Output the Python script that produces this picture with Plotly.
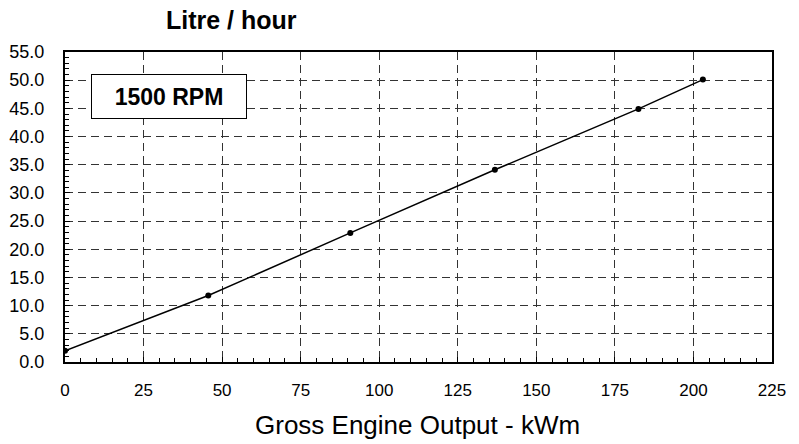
import plotly.graph_objects as go

output_kwm = [0, 45.6, 90.8, 136.8, 182.5, 203]
litre_per_hour = [2.0, 11.8, 22.9, 34.1, 44.9, 50.1]

x_ticks = [0, 25, 50, 75, 100, 125, 150, 175, 200, 225]
y_ticks = [0, 5, 10, 15, 20, 25, 30, 35, 40, 45, 50, 55]

FONT = "Liberation Sans, Arial, sans-serif"

fig = go.Figure()
fig.add_trace(go.Scatter(
    x=output_kwm, y=litre_per_hour, mode="lines+markers",
    line=dict(color="black", width=1.5),
    marker=dict(color="black", size=6),
    showlegend=False,
))

grid = dict(showgrid=True, gridcolor="#333333", griddash="8px,5px", gridwidth=1)

fig.update_xaxes(
    range=[0, 225], tickvals=x_ticks, ticktext=[str(v) for v in x_ticks],
    showline=True, linecolor="black", linewidth=2, mirror=True,
    ticks="inside", ticklen=5, tickcolor="black",
    minor=dict(ticks="inside", dtick=5, ticklen=4, tickcolor="black", showgrid=False),
    tickfont=dict(family=FONT, size=17, color="black"),
    ticklabelstandoff=12, zeroline=False, automargin=False, **grid,
)
fig.update_yaxes(
    range=[0, 55], tickvals=y_ticks, ticktext=[f"{v:.1f}" for v in y_ticks],
    showline=True, linecolor="black", linewidth=2, mirror=True,
    ticks="inside", ticklen=5, tickcolor="black",
    minor=dict(ticks="inside", dtick=1, ticklen=4, tickcolor="black", showgrid=False),
    tickfont=dict(family=FONT, size=18, color="black"),
    ticklabelstandoff=15, zeroline=False, automargin=False, **grid,
)

fig.add_annotation(
    text="<b>1500 RPM</b>", xref="x", yref="y", x=33.0, y=47.07,
    showarrow=False, font=dict(family=FONT, size=23, color="black"),
    bordercolor="black", borderwidth=1, bgcolor="white",
    width=152, height=41, align="center",
)
fig.add_annotation(
    text="<b>Litre / hour</b>", xref="paper", yref="paper", x=0.2355, y=1.103,
    xanchor="center", yanchor="middle", showarrow=False,
    font=dict(family=FONT, size=25, color="black"),
)
fig.add_annotation(
    text="Gross Engine Output - kWm", xref="paper", yref="paper", x=0.4986, y=-0.203,
    xanchor="center", yanchor="middle", showarrow=False,
    font=dict(family=FONT, size=26, color="black"),
)

fig.update_layout(
    width=799, height=444,
    margin=dict(l=65, r=27, t=52, b=82),
    paper_bgcolor="white", plot_bgcolor="white",
    font=dict(family=FONT, color="black"),
)
fig.write_html(
    "out.html",
    config={"displayModeBar": False},
    post_script="document.body.style.margin='0';document.body.style.overflow='hidden';",
)
